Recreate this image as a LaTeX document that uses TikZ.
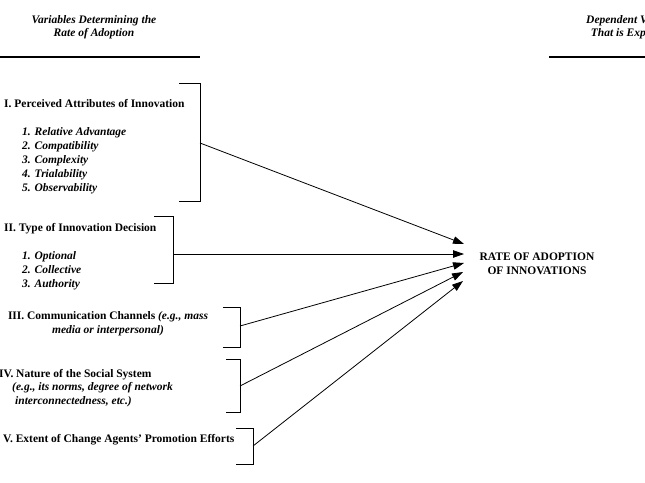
\documentclass[tikz,border=0pt]{standalone}
\usepackage{fontspec}
\setmainfont{Liberation Serif}
\usetikzlibrary{arrows.meta}
\begin{document}
\begin{tikzpicture}[x=1pt,y=-1pt,
  hdr/.style={font=\fontsize{11.5}{13}\selectfont\bfseries\itshape, align=center, inner sep=0pt},
  ttl/.style={font=\fontsize{11.5}{14}\selectfont\bfseries, anchor=west, inner sep=0pt},
  lst/.style={font=\fontsize{11.5}{14}\selectfont\bfseries\itshape, anchor=west, align=left, inner sep=0pt},
  brk/.style={line width=0.8pt},
  rulel/.style={line width=1.6pt},
  arr/.style={line width=0.8pt, -{Triangle[length=11pt,width=7.5pt]}}
]
\useasboundingbox (0,0) rectangle (645,482);
\clip (0,0) rectangle (645,482);

% headers
\node[hdr] (h1) at (94,27) {Variables Determining the\\Rate of Adoption};
\node[hdr] (h2) at (633,27) {Dependent Variable\\That is Explained};
\coordinate (r1a) at (0,57); \coordinate (r1b) at (200,57);
\coordinate (r2a) at (549,57); \coordinate (r2b) at (717,57);
\draw[rulel] (r1a) -- (r1b);
\draw[rulel] (r2a) -- (r2b);

% items
\node[ttl] (a1) at (4,104) {I. Perceived Attributes of Innovation};
\node[lst] (a1l) at (22,160.5) {1. Relative Advantage\\2. Compatibility\\3. Complexity\\4. Trialability\\5. Observability};
\node[ttl] (a2) at (4,229) {II. Type of Innovation Decision};
\node[lst] (a2l) at (22,271) {1. Optional\\2. Collective\\3. Authority};
\node[ttl, anchor=center, align=center] (a3) at (108,323.5) {III. Communication Channels \textit{(e.g., mass}\\\textit{media or interpersonal)}};
\node[ttl] (a4) at (-1,375) {IV. Nature of the Social System};
\node[lst] (a4l) at (12,395) {(e.g., its norms, degree of network\\\hspace{3pt}interconnectedness, etc.)};
\node[ttl] (a5) at (3,440) {V. Extent of Change Agents' Promotion Efforts};

% target
\node[font=\fontsize{11.5}{14}\selectfont\bfseries, align=center, inner sep=0pt] (rate) at (537,264) {RATE OF ADOPTION\\OF INNOVATIONS};
\coordinate (t1) at (464,244);
\coordinate (t2) at (464,254);
\coordinate (t3) at (464,263);
\coordinate (t4) at (463,272);
\coordinate (t5) at (463,281);

% brackets
\coordinate (m1) at (200,143);
\coordinate (m2) at (173,254);
\coordinate (m3) at (240,326);
\coordinate (m4) at (240,386);
\coordinate (m5) at (253,446);
\draw[brk] (179,83) -- (200,83) -- (200,201) -- (179,201);
\draw[brk] (154,216) -- (173,216) -- (173,283) -- (154,283);
\draw[brk] (223,307) -- (240,307) -- (240,347) -- (223,347);
\draw[brk] (226,359) -- (240,359) -- (240,412) -- (226,412);
\draw[brk] (236,428) -- (253,428) -- (253,464) -- (236,464);

% arrows
\draw[arr] (m1) -- (t1);
\draw[arr] (m2) -- (t2);
\draw[arr] (m3) -- (t3);
\draw[arr] (m4) -- (t4);
\draw[arr] (m5) -- (t5);
\end{tikzpicture}
\end{document}
